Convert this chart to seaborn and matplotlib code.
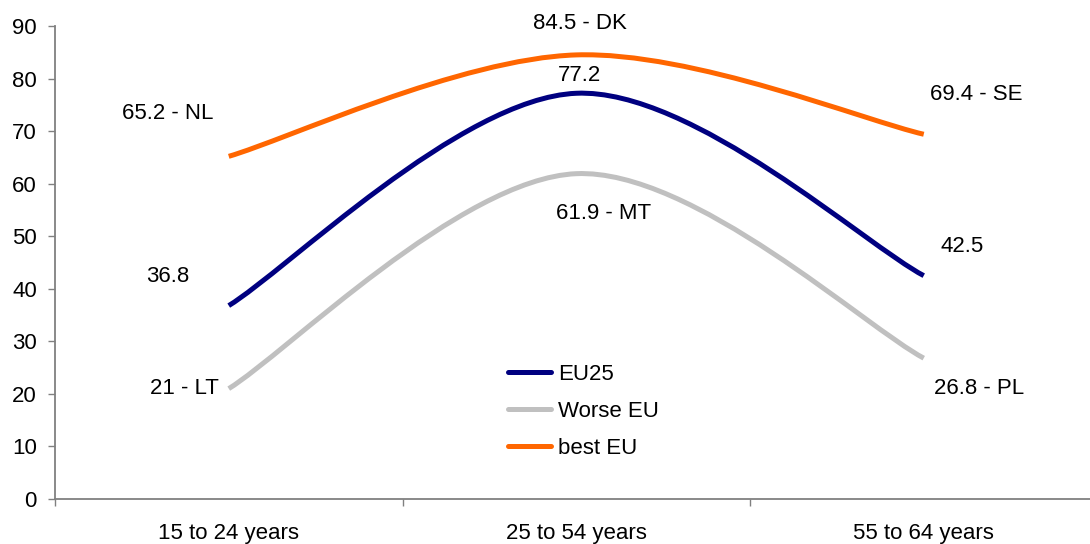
import matplotlib
matplotlib.use("Agg")
import matplotlib.pyplot as plt
import seaborn as sns
from matplotlib.path import Path
from matplotlib.patches import PathPatch
from matplotlib.lines import Line2D

# data
categories = ["15 to 24 years", "25 to 54 years", "55 to 64 years"]
eu25 = [36.8, 77.2, 42.5]
worse_eu = [21.0, 61.9, 26.8]
best_eu = [65.2, 84.5, 69.4]
worse_codes = ["LT", "MT", "PL"]
best_codes = ["NL", "DK", "SE"]

sns.set_theme(style="white")
plt.rcParams["font.family"] = ["Liberation Sans", "DejaVu Sans"]
plt.rcParams["text.color"] = "black"
plt.rcParams["xtick.color"] = "black"
plt.rcParams["ytick.color"] = "black"
fs = 16

fig = plt.figure(figsize=(10.9, 5.44), dpi=100)
ax = fig.add_axes([55 / 1090, 45 / 544, 1042.5 / 1090, 473 / 544])


def smooth_path(ys):
    # excel style smoothed line: cubic bezier through the points
    xs = list(range(len(ys)))
    pts = list(zip(xs, ys))
    verts = [pts[0]]
    codes = [Path.MOVETO]
    for i in range(len(pts) - 1):
        p0 = pts[i - 1] if i > 0 else pts[i]
        p1 = pts[i]
        p2 = pts[i + 1]
        p3 = pts[i + 2] if i + 2 < len(pts) else pts[i + 1]
        c1 = (p1[0] + (p2[0] - p0[0]) / 6, p1[1] + (p2[1] - p0[1]) / 6)
        c2 = (p2[0] - (p3[0] - p1[0]) / 6, p2[1] - (p3[1] - p1[1]) / 6)
        verts += [c1, c2, p2]
        codes += [Path.CURVE4] * 3
    return Path(verts, codes)


series = [("EU25", eu25, "#000080"), ("Worse EU", worse_eu, "#C0C0C0"), ("best EU", best_eu, "#FF6600")]
handles = []
for name, vals, col in series:
    ax.add_patch(PathPatch(smooth_path(vals), facecolor="none", edgecolor=col,
                           lw=3.6, capstyle="butt", joinstyle="round"))
    handles.append(Line2D([], [], color=col, lw=3.6, label=name))

# value labels
ax.text(-0.176, 73.4, f"{best_eu[0]:g} - {best_codes[0]}", ha="center", va="center", fontsize=fs)
ax.text(1.01, 90.4, f"{best_eu[1]:g} - {best_codes[1]}", ha="center", va="center", fontsize=fs)
ax.text(2.15, 76.9, f"{best_eu[2]:g} - {best_codes[2]}", ha="center", va="center", fontsize=fs)
ax.text(-0.176, 42.4, f"{eu25[0]:g}", ha="center", va="center", fontsize=fs)
ax.text(1.01, 80.5, f"{eu25[1]:g}", ha="center", va="center", fontsize=fs)
ax.text(2.11, 48.0, f"{eu25[2]:g}", ha="center", va="center", fontsize=fs)
ax.text(-0.127, 21.1, f"{worse_eu[0]:g} - {worse_codes[0]}", ha="center", va="center", fontsize=fs)
ax.text(1.08, 54.4, f"{worse_eu[1]:g} - {worse_codes[1]}", ha="center", va="center", fontsize=fs)
ax.text(2.16, 21.1, f"{worse_eu[2]:g} - {worse_codes[2]}", ha="center", va="center", fontsize=fs)

ax.set_xlim(-0.5, 2.5)
ax.set_ylim(0, 90)
ax.set_yticks(range(0, 91, 10))
ax.set_xticks([-0.5, 0.5, 1.5, 2.5])
ax.set_xticklabels([])
ax.set_xticks(range(3), minor=True)
ax.set_xticklabels(categories, minor=True, fontsize=fs)
ax.tick_params(axis="x", which="major", direction="out", length=5, width=1, color="#808080", bottom=True)
ax.tick_params(axis="x", which="minor", length=0, pad=17)
ax.tick_params(axis="y", direction="out", length=5, width=1, color="#808080", left=True, pad=8, labelsize=fs)

sns.despine(ax=ax, top=True, right=True)
for s in ["left", "bottom"]:
    ax.spines[s].set_color("#808080")
    ax.spines[s].set_linewidth(1.3)

ax.legend(handles=handles, loc="upper left", bbox_to_anchor=(508 / 1090, 180 / 544),
          bbox_transform=fig.transFigure, frameon=False, fontsize=fs, borderpad=0,
          handlelength=1.95, handletextpad=0.3, labelspacing=0.72, borderaxespad=0)

fig.savefig("out.png", dpi=100)
